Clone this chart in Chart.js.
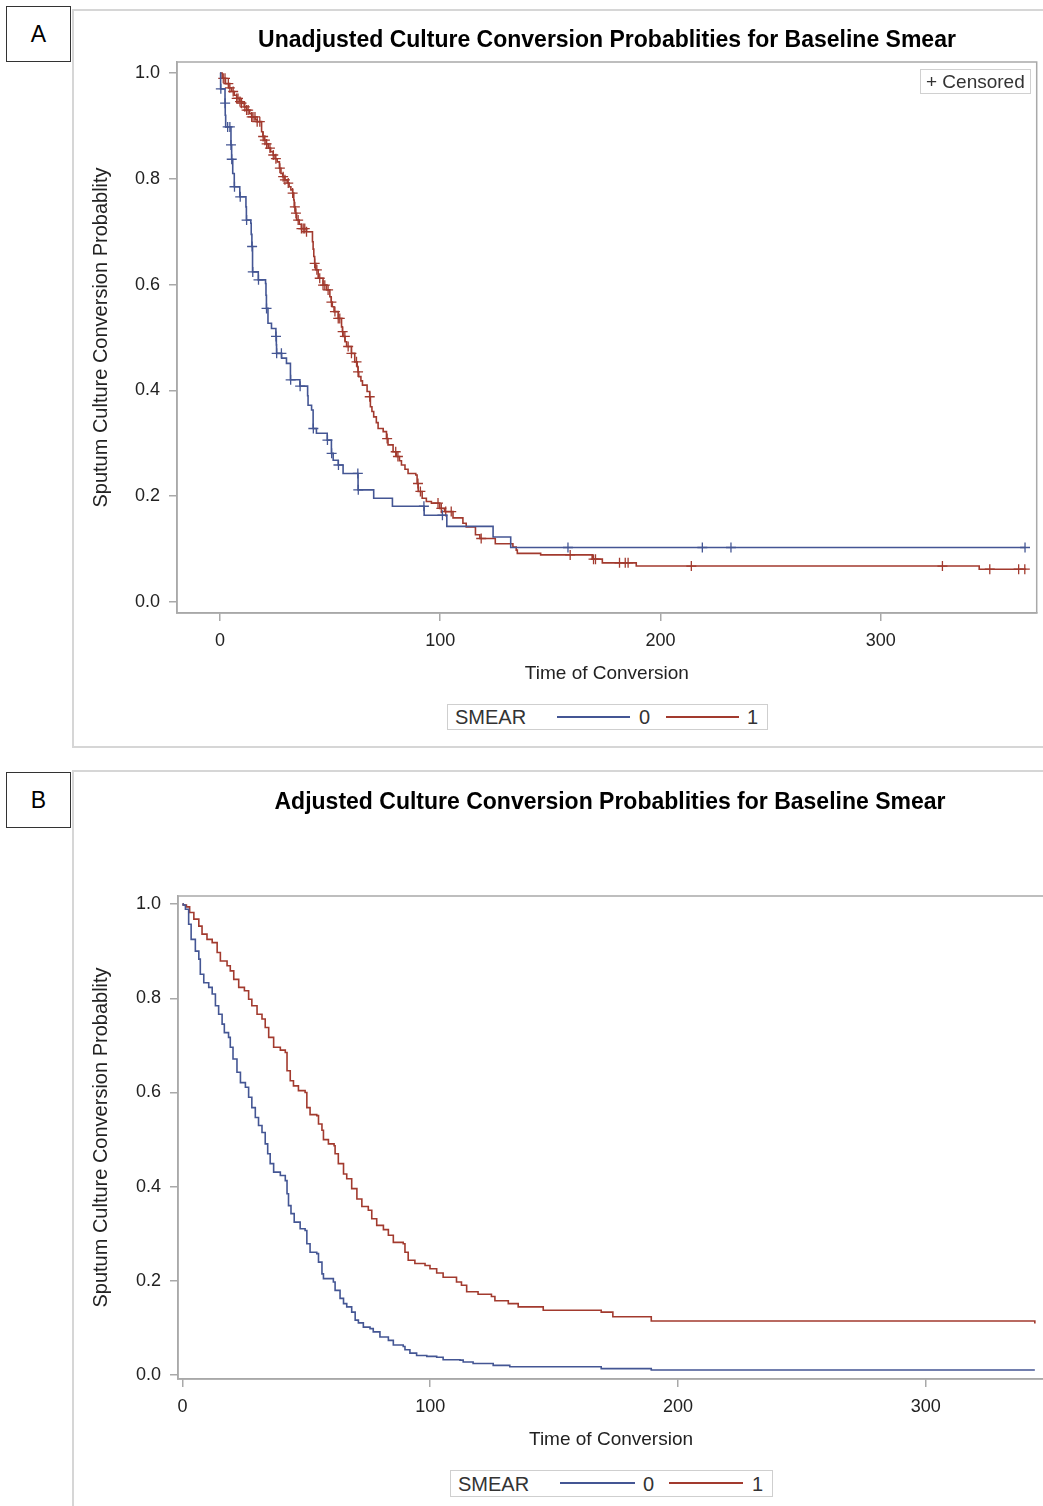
<!DOCTYPE html>
<html>
<head>
<meta charset="utf-8">
<script src="https://cdn.jsdelivr.net/npm/chart.js@4.4.1/dist/chart.umd.min.js"></script>
<style>
  body { margin: 0; width: 1043px; height: 1506px; overflow: hidden; background: #fff; position: relative; font-family: "Liberation Sans", Arial, sans-serif; color: #222; }
  .panel { position: absolute; left: 72px; width: 1000px; border-left: 2px solid #d6d6d6; border-top: 2px solid #d6d6d6; }
  .tag { position: absolute; left: 6px; width: 63px; height: 54px; border: 1.5px solid #333; font-size: 23px; line-height: 54px; text-align: center; color: #000; }
  .title { position: absolute; font-weight: bold; font-size: 23px; line-height: 26px; text-align: center; color: #000; white-space: nowrap; }
  .legend { position: absolute; border: 1.5px solid #cfcfcf; background: #fff; font-size: 20px; color: #333; }
  .legend span { position: absolute; top: 50%; transform: translateY(-50%); line-height: 22px; }
  .legend i { position: absolute; top: 11px; height: 2px; }
  .censored { position: absolute; border: 1.5px solid #d0d0d0; font-size: 19px; line-height: 23px; color: #333; padding: 0 5px 0 5px; white-space: nowrap; }
  canvas { position: absolute; left: 0; }
</style>
</head>
<body>
<div class="panel" style="top: 9px; height: 735px; border-bottom: 2px solid #d6d6d6;"></div>
<div class="panel" style="top: 770px; height: 740px;"></div>
<div class="tag" style="top: 6px;">A</div>
<div class="tag" style="top: 772px;">B</div>

<canvas id="chartA" width="1043" height="745" style="top: 0;"></canvas>
<canvas id="chartB" width="1060" height="736" style="top: 770px;"></canvas>

<div class="title" style="left: 177px; width: 860px; top: 26px;">Unadjusted Culture Conversion Probablities for Baseline Smear</div>
<div class="title" style="left: 177px; width: 866px; top: 788px;">Adjusted Culture Conversion Probablities for Baseline Smear</div>

<div class="censored" style="left: 920px; top: 69px;">+ Censored</div>

<div class="legend" style="left: 447px; top: 704px; width: 319px; height: 24px;">
  <span style="left: 7px;">SMEAR</span>
  <i style="left: 109px; width: 73px; background: #445694;"></i>
  <span style="left: 191px;">0</span>
  <i style="left: 218px; width: 73px; background: #A23A2E;"></i>
  <span style="left: 299px;">1</span>
</div>
<div class="legend" style="left: 450px; top: 1470px; width: 321px; height: 25px;">
  <span style="left: 7px;">SMEAR</span>
  <i style="left: 109px; width: 75px; background: #445694;"></i>
  <span style="left: 192px;">0</span>
  <i style="left: 218px; width: 74px; background: #A23A2E;"></i>
  <span style="left: 301px;">1</span>
</div>

<script>
// Panel A: unadjusted Kaplan-Meier curves (event time, survival after event)
const unadjTime0 = [0, 0.3, 2.3, 2.4, 2.6, 5.0, 5.3, 5.8, 6.5, 9.0, 11.8, 12.0, 14.0, 14.2, 14.5, 14.8, 17.4, 20.7, 20.9, 21.1,
  21.8, 23.4, 25.4, 25.6, 25.7, 28.0, 30.2, 32.0, 36.3, 39.8, 40.0, 41.6, 42.3, 43.8, 48.7, 50.6, 51.4, 53.7, 55.9, 62.7,
  69.8, 78.3, 92.7, 103, 124, 132, 365.5];
const unadjSurv0 = [1.0, 0.970, 0.943, 0.920, 0.898, 0.864, 0.837, 0.810, 0.785, 0.766, 0.747, 0.722, 0.716, 0.695, 0.672, 0.624, 0.609, 0.602, 0.580, 0.555,
  0.527, 0.517, 0.502, 0.486, 0.470, 0.461, 0.451, 0.420, 0.408, 0.390, 0.372, 0.363, 0.328, 0.319, 0.306, 0.281, 0.268, 0.259, 0.243, 0.212,
  0.196, 0.181, 0.164, 0.143, 0.123, 0.103, 0.103];
const unadjTime1 = [0, 1.0, 2.5, 4.0, 5.3, 6.5, 7.6, 9.0, 9.8, 11.0, 12.1, 13.5, 14.4, 16.0, 16.9, 18.9, 19.5, 20.1, 21.0, 21.9,
  23.0, 24.2, 25.0, 26.0, 27.0, 27.7, 28.5, 29.5, 30.5, 31.4, 32.2, 33.0, 33.5, 33.7, 34.2, 34.8, 36.0, 37.0, 39.3, 42.0,
  42.3, 42.6, 43.0, 43.5, 44.6, 46.8, 48.4, 49.9, 50.5, 51.0, 51.8, 53.7, 55.2, 55.6, 55.9, 56.8, 57.5, 59.7, 61.2, 62.3,
  62.7, 63.0, 64.0, 64.7, 66.8, 68.0, 68.3, 69.0, 69.8, 71.0, 71.8, 74.1, 75.6, 76.3, 78.6, 80.1, 81.5, 82.4, 84.0, 85.4,
  88.9, 89.5, 90.0, 91.8, 93.7, 96.0, 99.8, 102, 105.8, 110.3, 111.8, 116, 118, 125, 133, 134.5, 135, 145.6, 169, 173.6,
  189, 344.7, 366];
const unadjSurv1 = [1.0, 0.990, 0.980, 0.972, 0.965, 0.958, 0.952, 0.946, 0.943, 0.936, 0.930, 0.923, 0.917, 0.912, 0.908, 0.889, 0.880, 0.873, 0.866, 0.858,
  0.851, 0.845, 0.838, 0.832, 0.820, 0.810, 0.804, 0.798, 0.792, 0.785, 0.779, 0.773, 0.760, 0.747, 0.735, 0.722, 0.714, 0.706, 0.700, 0.681,
  0.667, 0.653, 0.640, 0.628, 0.612, 0.599, 0.590, 0.577, 0.567, 0.558, 0.549, 0.536, 0.520, 0.511, 0.502, 0.492, 0.483, 0.470, 0.454, 0.445,
  0.435, 0.426, 0.418, 0.410, 0.398, 0.388, 0.369, 0.360, 0.350, 0.339, 0.328, 0.322, 0.309, 0.297, 0.284, 0.275, 0.267, 0.259, 0.251, 0.243,
  0.240, 0.224, 0.209, 0.196, 0.190, 0.187, 0.177, 0.171, 0.159, 0.149, 0.142, 0.127, 0.120, 0.110, 0.104, 0.098, 0.092, 0.089, 0.081, 0.074,
  0.068, 0.062, 0.062];

// censoring times (marks sit on the curve)
const censorTime0 = [0.4, 2.35, 3.5, 4.5, 5.0, 5.35, 6.6, 9.2, 12.1, 14.6, 14.9, 17.5, 21.15, 25.45, 25.75, 27.9, 32.1, 36.4, 42.4, 48.8,
  50.7, 53.8, 62.6, 62.8, 92.6, 101, 158, 219, 232, 365.5];
const censorTime1 = [1.5, 2.3, 3.8, 4.5, 6.0, 7.6, 8.2, 9.1, 9.8, 11.3, 12.1, 12.8, 14.4, 15.0, 15.9, 16.9, 18.1, 19.6, 20.4, 21.2,
  22.7, 24.2, 25.4, 27.2, 28.7, 29.5, 31.0, 33.0, 34.0, 34.5, 35.5, 37.0, 37.8, 38.5, 39.3, 43.0, 44.0, 45.3, 46.8, 47.6,
  49.1, 50.6, 52.2, 53.7, 54.4, 55.7, 56.7, 58.2, 59.7, 62.0, 62.7, 68.0, 75.9, 79.8, 80.8, 89.9, 91.0, 99.0, 100.5, 102.5,
  105.0, 118.6, 159, 169.6, 170.5, 181.4, 184, 185.3, 214, 328, 349.5, 362.6, 365.4];

// Panel B: adjusted curves
const adjTime0 = [0, 0.3, 1.2, 2.5, 3.5, 5.2, 6.6, 7.2, 8.6, 10.6, 12.0, 13.3, 14.6, 16.0, 16.9, 18.6, 19.3, 20.4, 22.0, 23.4,
  25.4, 26.7, 28.0, 29.4, 30.7, 32.1, 33.4, 34.4, 35.4, 36.8, 39.5, 41.5, 42.2, 42.8, 43.8, 45.1, 47.5, 49.5, 50.2, 51.5,
  54.2, 54.9, 56.3, 56.9, 60.9, 61.6, 63.6, 65.0, 66.3, 68.3, 69.7, 71.0, 73.0, 75.7, 77.0, 79.7, 83.1, 85.1, 89.1, 89.8,
  91.8, 94.5, 98.6, 102.6, 105.2, 112.0, 113.3, 117.3, 125.4, 132.1, 169.0, 189.2, 344];
const adjSurv0 = [1.0, 0.998, 0.989, 0.957, 0.925, 0.900, 0.883, 0.851, 0.833, 0.823, 0.809, 0.784, 0.766, 0.745, 0.727, 0.717, 0.696, 0.671, 0.643, 0.621,
  0.611, 0.590, 0.568, 0.547, 0.530, 0.515, 0.491, 0.470, 0.449, 0.431, 0.424, 0.413, 0.385, 0.360, 0.343, 0.325, 0.311, 0.307, 0.279, 0.261,
  0.258, 0.240, 0.215, 0.205, 0.198, 0.180, 0.163, 0.152, 0.145, 0.134, 0.117, 0.111, 0.102, 0.099, 0.092, 0.081, 0.074, 0.064, 0.061, 0.054,
  0.047, 0.042, 0.040, 0.038, 0.033, 0.032, 0.028, 0.025, 0.021, 0.018, 0.014, 0.011, 0.011];
const adjTime1 = [0, 0.3, 1.6, 2.9, 4.6, 6.6, 7.9, 9.9, 12.0, 14.0, 15.3, 18.0, 19.3, 20.7, 22.7, 25.0, 26.7, 28.0, 30.1, 32.1,
  33.4, 34.8, 36.8, 39.5, 41.5, 42.2, 43.5, 44.8, 46.8, 49.5, 50.2, 51.5, 54.2, 54.9, 56.3, 56.9, 58.9, 61.2, 61.6, 62.9,
  65.0, 66.3, 68.3, 70.4, 72.4, 75.0, 76.4, 78.4, 81.1, 83.1, 85.1, 89.1, 89.8, 91.1, 93.8, 97.9, 99.9, 102.6, 105.2, 110.6,
  112.6, 114.7, 119.3, 124.7, 126.1, 131.5, 135.5, 145.6, 169.0, 173.7, 189.2, 344];
const adjSurv1 = [1.0, 0.998, 0.994, 0.982, 0.968, 0.953, 0.936, 0.925, 0.918, 0.897, 0.879, 0.869, 0.858, 0.840, 0.823, 0.816, 0.798, 0.784, 0.766, 0.756,
  0.738, 0.717, 0.696, 0.690, 0.685, 0.646, 0.625, 0.614, 0.604, 0.600, 0.568, 0.553, 0.551, 0.533, 0.520, 0.500, 0.491, 0.487, 0.470, 0.449,
  0.427, 0.417, 0.396, 0.374, 0.358, 0.350, 0.332, 0.318, 0.309, 0.297, 0.282, 0.279, 0.261, 0.244, 0.237, 0.233, 0.226, 0.217, 0.208, 0.198,
  0.191, 0.177, 0.172, 0.167, 0.158, 0.152, 0.145, 0.138, 0.134, 0.124, 0.115, 0.110];

const xTicks = [0, 100, 200, 300];
const yTicks = [0, 0.2, 0.4, 0.6, 0.8, 1.0];

const BLUE = '#445694';
const RED = '#A23A2E';
const FRAME = '#a9a9a9';
const FONT = '"Liberation Sans", Arial, sans-serif';

function stepPoints(times, surv) {
    return times.map((t, i) => ({ x: t, y: surv[i] }));
}

// value of the step curve at time t
function survAt(times, surv, t) {
    let s = surv[0];
    for (let i = 0; i < times.length; i++) {
        if (times[i] <= t) s = surv[i];
    }
    return s;
}

function censorPoints(censor, times, surv) {
    return censor.map(t => ({ x: t, y: survAt(times, surv, t) }));
}

function curve(points, color) {
    return {
        data: points,
        borderColor: color,
        borderWidth: 1.6,
        stepped: 'before',
        pointRadius: 0,
        fill: false
    };
}

function marks(points, color) {
    return {
        data: points,
        showLine: false,
        borderColor: color,
        backgroundColor: color,
        pointStyle: 'cross',
        pointRadius: 5,
        pointBorderWidth: 1.3,
        pointHoverRadius: 5
    };
}

// draws the top and right edge of the plot box
const plotFrame = {
    id: 'plotFrame',
    beforeDatasetsDraw(chart) {
        const { ctx, chartArea: a } = chart;
        ctx.save();
        ctx.strokeStyle = FRAME;
        ctx.lineWidth = 1.5;
        ctx.strokeRect(a.left, a.top, a.right - a.left, a.bottom - a.top);
        ctx.restore();
    }
};

function kmChart(canvasId, datasets, opt) {
    const ctx = document.getElementById(canvasId).getContext('2d');
    return new Chart(ctx, {
        type: 'line',
        data: { datasets: datasets },
        plugins: [plotFrame],
        options: {
            responsive: false,
            animation: false,
            events: [],
            layout: { padding: opt.padding },
            plugins: { legend: { display: false }, tooltip: { enabled: false } },
            scales: {
                x: {
                    type: 'linear',
                    min: opt.xMin,
                    max: opt.xMax,
                    afterBuildTicks: s => { s.ticks = xTicks.map(v => ({ value: v })); },
                    afterFit: s => { s.height = 72; },
                    grid: { drawOnChartArea: false, tickLength: 8, color: FRAME, lineWidth: 1.5 },
                    border: { color: FRAME, width: 1.5 },
                    ticks: { padding: opt.xPad, color: '#222', font: { family: FONT, size: 18 }, maxRotation: 0 },
                    title: { display: true, text: 'Time of Conversion', color: '#222', padding: 0, font: { family: FONT, size: 19 } }
                },
                y: {
                    type: 'linear',
                    min: opt.yMin,
                    max: opt.yMax,
                    afterBuildTicks: s => { s.ticks = yTicks.map(v => ({ value: v })); },
                    afterFit: s => { s.width = opt.yWidth; },
                    grid: { drawOnChartArea: false, tickLength: 8, color: FRAME, lineWidth: 1.5 },
                    border: { color: FRAME, width: 1.5 },
                    ticks: { padding: 9, color: '#222', font: { family: FONT, size: 18 }, callback: v => v.toFixed(1) },
                    title: { display: true, text: 'Sputum Culture Conversion Probablity', color: '#222', padding: 0, font: { family: FONT, size: 20 } }
                }
            }
        }
    });
}

kmChart('chartA', [
    curve(stepPoints(unadjTime0, unadjSurv0), BLUE),
    curve(stepPoints(unadjTime1, unadjSurv1), RED),
    marks(censorPoints(censorTime0, unadjTime0, unadjSurv0), BLUE),
    marks(censorPoints(censorTime1, unadjTime1, unadjSurv1), RED)
], {
    padding: { left: 89, right: 6, top: 62, bottom: 60 },
    yWidth: 88, xPad: 9,
    xMin: -19.5, xMax: 370.8, yMin: -0.0208, yMax: 1.0208
});

kmChart('chartB', [
    curve(stepPoints(adjTime0, adjSurv0), BLUE),
    curve(stepPoints(adjTime1, adjSurv1), RED)
], {
    padding: { left: 89, right: 16, top: 126, bottom: 55 },
    yWidth: 89, xPad: 9,
    xMin: -1.8, xMax: 347.7, yMin: -0.008, yMax: 1.017
});
</script>
</body>
</html>
